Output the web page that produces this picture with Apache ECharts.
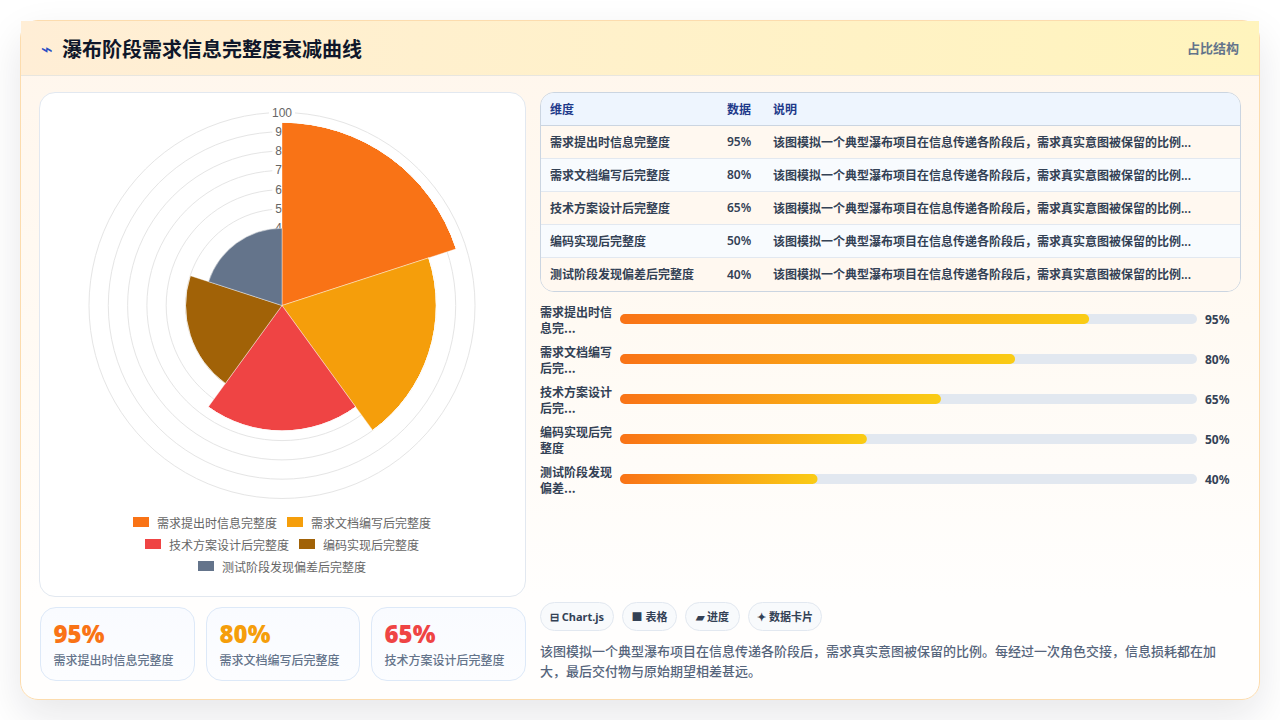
<!DOCTYPE html>
<html lang="zh-CN">
<head>
<meta charset="utf-8">
<title>瀑布阶段需求信息完整度衰减曲线</title>
<script src="https://cdn.jsdelivr.net/npm/echarts@6/dist/echarts.min.js"></script>
<style>
  * { box-sizing: border-box; margin: 0; padding: 0; }
  html, body { width: 1280px; height: 720px; overflow: hidden; background: #fff; }
  body { font-family: "Noto Sans", "Noto Sans CJK SC", sans-serif; position: relative; }
  .card {
    position: absolute; left: 20px; top: 20px; width: 1240px; height: 680px;
    border: 1px solid #fcdcae; border-radius: 18px;
    background: linear-gradient(180deg, #fff6ec 0%, #fffaf3 45%, #fffefd 85%, #fffefd 100%);
    box-shadow: 0 16px 40px rgba(15, 23, 42, .10);
  }
  .head {
    position: absolute; left: 0; top: 0; width: 100%; height: 55px;
    background: linear-gradient(90deg, #ffeed6 0%, #fff4bd 100%);
    border-bottom: 1px solid #e8e6df;
  }
  .icon { position: absolute; left: 20px; top: 18px; font-size: 20px; line-height: 20px; color: #2c4fc4; font-family: "DejaVu Sans"; }
  h1 { position: absolute; left: 41px; top: 14px; font-size: 20px; line-height: 30px; font-weight: 700; color: #0f172a; }
  .tag { position: absolute; right: 20px; top: 17px; font-size: 13px; line-height: 20px; font-weight: 700; color: #64748b; }
  .panel {
    position: absolute; left: 39px; top: 92px; width: 487px; height: 505px;
    background: #fff; border: 1px solid #e2e8f0; border-radius: 16px;
  }
  .stat {
    position: absolute; top: 607px; height: 74px; border: 1px solid #dde9f8; border-radius: 16px;
    background: linear-gradient(180deg, #f9fbff, #fcfdff);
  }
  .stat b { position: absolute; left: 13px; top: 10px; font-size: 24px; line-height: 32px; font-weight: 900; }
  .stat span { position: absolute; left: 13px; top: 44px; font-size: 12px; line-height: 18px; color: #64748b; font-weight: 500; }
  table {
    position: absolute; left: 540px; top: 92px; width: 701px; height: 200px;
    border: 1px solid #cbd5e1; border-radius: 14px; border-collapse: separate; border-spacing: 0; overflow: hidden;
    font-size: 12px; font-weight: 600; color: #334155; table-layout: fixed;
  }
  th, td { text-align: left; padding: 0 0 1px 9px; white-space: nowrap; overflow: hidden; }
  th { height: 33px; background: #eef5fe; color: #1e3a8a; border-bottom: 1px solid #cbd5e1; font-weight: 600; }
  td { height: 33px; border-bottom: 1px solid #e2e8f0; }
  tr:last-child td { border-bottom: 0; }
  tbody tr:nth-child(odd) td { background: #fff8f0; }
  tbody tr:nth-child(even) td { background: #f8fbfe; }
  .chip {
    position: absolute; top: 602px; height: 29px; border: 1px solid #e2e8f0; border-radius: 15px;
    background: #f8fafc; color: #334155; font-size: 11px; font-weight: 700; line-height: 27px; text-align: center; white-space: nowrap;
  }
  .note { position: absolute; left: 540px; top: 641px; width: 690px; font-size: 13px; line-height: 20px; color: #56657c; font-weight: 500; }
  #chart { position: absolute; left: 0; top: 0; width: 1280px; height: 720px; }
</style>
</head>
<body>
<div class="card">
  <div class="head">
    <span class="icon">⌁</span>
    <h1 id="title"></h1>
    <span class="tag" id="tag"></span>
  </div>
</div>
<div class="panel"></div>
<div id="stats"></div>
<table id="tbl"><colgroup><col style="width:177px"><col style="width:46px"><col></colgroup><thead></thead><tbody></tbody></table>
<div id="chips"></div>
<div class="note" id="note"></div>
<div id="chart"></div>

<script>
// Chart content
const titleText = '瀑布阶段需求信息完整度衰减曲线';
const tagText = '占比结构';
const stages = ['需求提出时信息完整度', '需求文档编写后完整度', '技术方案设计后完整度', '编码实现后完整度', '测试阶段发现偏差后完整度'];
const barLabels = ['需求提出时信\n息完...', '需求文档编写\n后完...', '技术方案设计\n后完...', '编码实现后完\n整度', '测试阶段发现\n偏差...'];
const completeness = [95, 80, 65, 50, 40];
const sectorColors = ['#f97316', '#f59e0b', '#ef4444', '#a16207', '#64748b'];
const radiusTicks = [0, 10, 20, 30, 40, 50, 60, 70, 80, 90, 100];
const legendRows = [[0, 1], [2, 3], [4]];
const legendRowTops = [510, 532, 554];
const legendRowLefts = [126, 138, 191];
const tableHead = ['维度', '数据', '说明'];
const tableNote = '该图模拟一个典型瀑布项目在信息传递各阶段后，需求真实意图被保留的比例...';
const noteText = '该图模拟一个典型瀑布项目在信息传递各阶段后，需求真实意图被保留的比例。每经过一次角色交接，信息损耗都在加大，最后交付物与原始期望相差甚远。';
const chipLabels = ['⊟ Chart.js', '■ 表格', '▰ 进度', '✦ 数据卡片'];
const chipBoxes = [[540, 74], [622, 55], [685, 55], [748, 74]];
const statBoxes = [[39.5, 155.5], [205.5, 154.5], [370.5, 155.5]];
const progressAxisMax = 116.85;

// Static page text
document.getElementById('title').textContent = titleText;
document.getElementById('tag').textContent = tagText;
document.getElementById('note').textContent = noteText;
document.querySelector('#tbl thead').innerHTML = '<tr>' + tableHead.map(h => `<th>${h}</th>`).join('') + '</tr>';
document.querySelector('#tbl tbody').innerHTML = stages.map((s, i) =>
  `<tr><td>${s}</td><td>${completeness[i]}%</td><td>${tableNote}</td></tr>`).join('');
document.getElementById('stats').innerHTML = statBoxes.map(([x, w], i) =>
  `<div class="stat" style="left:${x}px;width:${w}px"><b style="color:${sectorColors[i]}">${completeness[i]}%</b><span>${stages[i]}</span></div>`).join('');
document.getElementById('chips').innerHTML = chipLabels.map((c, i) =>
  `<div class="chip" style="left:${chipBoxes[i][0]}px;width:${chipBoxes[i][1]}px">${c}</div>`).join('');

// Rose sectors: one stacked polar bar series per stage so the legend lists each stage
const roseSeries = stages.map((name, i) => ({
  type: 'bar',
  name,
  coordinateSystem: 'polar',
  polarIndex: 0,
  stack: 'rose',
  barCategoryGap: 0,
  z: 3,
  itemStyle: { color: sectorColors[i], borderColor: '#fff', borderWidth: 0.4 },
  data: completeness.map((v, k) => (k === i ? v : 0))
}));

const legends = legendRows.map((row, r) => ({
  top: legendRowTops[r],
  left: legendRowLefts[r],
  orient: 'horizontal',
  data: row.map(i => stages[i]),
  itemWidth: 18,
  itemHeight: 12,
  itemGap: 8,
  selectedMode: false,
  icon: 'rect',
  textStyle: { fontSize: 12, color: '#666', fontFamily: '"Noto Sans CJK SC"', padding: [0, 0, 0, 2] }
}));

// Horizontal progress bars on a shared value scale
const progressSeries = {
  type: 'bar',
  xAxisIndex: 0,
  yAxisIndex: 0,
  barWidth: 10,
  showBackground: true,
  backgroundStyle: { color: '#e2e8f0', borderRadius: 5 },
  itemStyle: {
    borderRadius: 5,
    color: new echarts.graphic.LinearGradient(0, 0, 1, 0, [
      { offset: 0, color: '#f97316' },
      { offset: 1, color: '#facc15' }
    ])
  },
  data: completeness,
  z: 3
};

const chart = echarts.init(document.getElementById('chart'), null, { renderer: 'svg' });
chart.setOption({
  animation: false,
  backgroundColor: 'transparent',
  legend: legends,
  polar: { center: [282, 305.5], radius: 193 },
  angleAxis: {
    type: 'category',
    data: stages,
    startAngle: 90,
    clockwise: true,
    show: false
  },
  radiusAxis: {
    min: 0,
    max: 100,
    interval: 10,
    z: 1,
    axisLine: { show: false },
    axisTick: { show: false },
    splitLine: { show: true, lineStyle: { color: '#e5e5e5', width: 1 } },
    axisLabel: {
      color: '#666',
      fontSize: 12,
      fontFamily: '"Liberation Sans"',
      margin: 0,
      align: 'center',
      verticalAlign: 'middle',
      backgroundColor: '#fff',
      padding: [0, 3],
      formatter: v => (radiusTicks.includes(v) ? String(v) : '')
    }
  },
  grid: { left: 620, top: 299, width: 577, height: 200, containLabel: false },
  xAxis: { type: 'value', min: 0, max: progressAxisMax, show: false },
  yAxis: [{
    type: 'category',
    inverse: true,
    data: barLabels,
    axisLine: { show: false },
    axisTick: { show: false },
    axisLabel: {
      margin: 0,
      width: 72,
      align: 'left',
      padding: [0, 0, 0, -80],
      fontSize: 12,
      lineHeight: 16,
      fontWeight: 700,
      color: '#334155',
      fontFamily: '"Noto Sans CJK SC"'
    }
  }, {
    type: 'category',
    inverse: true,
    position: 'right',
    data: completeness.map(v => v + '%'),
    axisLine: { show: false },
    axisTick: { show: false },
    axisLabel: {
      margin: 8,
      align: 'left',
      fontSize: 12,
      fontWeight: 700,
      color: '#334155',
      fontFamily: '"Noto Sans", "Noto Sans CJK SC"'
    }
  }],
  series: roseSeries.concat([progressSeries])
});
</script>
</body>
</html>
